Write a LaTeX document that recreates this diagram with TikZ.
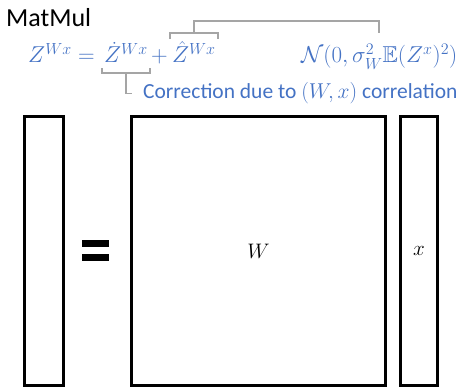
\RequirePackage{fix-cm}
\documentclass[tikz,border=0pt]{standalone}
\usepackage{amssymb}
\usepackage{fontspec}
\setmainfont{Carlito}
\definecolor{eqblue}{HTML}{4472C4}
\definecolor{bracegray}{HTML}{A5A5A5}
\usetikzlibrary{positioning}
\tikzset{
    matbox/.style={
        draw=black,
        line width=3pt,
        minimum height=269pt,
        inner sep=0pt,
        font=\fontsize{21}{24}\selectfont
    },
    eqterm/.style={
        text=eqblue,
        inner sep=0pt,
        anchor=base west,
        font=\fontsize{23}{26}\selectfont
    },
    notetext/.style={
        text=eqblue,
        inner sep=0pt,
        anchor=base west,
        font=\fontsize{21.5}{25}\selectfont
    },
    bracket/.style={
        draw=bracegray,
        line width=1.6pt
    }
}

\begin{document}
\begin{tikzpicture}[x=1pt,y=1pt]
    \useasboundingbox (0,0) rectangle (464,390);

    \node[anchor=base west, inner sep=0pt, font=\fontsize{26}{30}\selectfont] (title) at (6,363) {MatMul};

    % equation
    \node[eqterm] (zlhs) at (28,327) {$Z^{Wx} =$};
    \node[eqterm] (zdot) at ([xshift=9pt]zlhs.base east) {$\dot{Z}^{Wx}$};
    \node[eqterm] (plus) at ([xshift=3pt]zdot.base east) {$+$};
    \node[eqterm] (zhat) at ([xshift=4pt]plus.base east) {$\hat{Z}^{Wx}$};
    \node[eqterm] (normal) at (301,327) {$\mathcal{N}\bigl(0,\sigma_W^2\mathbb{E}(Z^x)^2\bigr)$};
    \node[notetext] (note) at (143,291) {Correction due to $(W,x)$ correlation};

    % brackets
    \draw[bracket] ([xshift=-2pt,yshift=-5pt]zdot.south west) -- ([xshift=-2pt,yshift=-10pt]zdot.south west)
        -- ([xshift=2pt,yshift=-10pt]zdot.south east) -- ([xshift=2pt,yshift=-5pt]zdot.south east);
    \draw[bracket] ([yshift=-10pt]zdot.south) |- ([xshift=-11pt]note.west);
    \draw[bracket] ([xshift=-2pt,yshift=2pt]zhat.north west) -- ([xshift=-2pt,yshift=8pt]zhat.north west)
        -- ([xshift=2pt,yshift=8pt]zhat.north east) -- ([xshift=2pt,yshift=2pt]zhat.north east);
    \coordinate (normaltop) at ([yshift=11pt]normal.north);
    \draw[bracket] ([yshift=8pt]zhat.north) -- ++(0,12) -| (normaltop);

    % matrices
    \node[matbox, minimum width=39pt] (lhsvec) at (44,139) {};
    \node[matbox, minimum width=254pt] (wmat) at (258.5,139) {$W$};
    \node[matbox, minimum width=37pt] (xvec) at (419,139) {$x$};
    \fill (82,143) rectangle (109,150);
    \fill (82,129) rectangle (109,136);
\end{tikzpicture}
\end{document}
